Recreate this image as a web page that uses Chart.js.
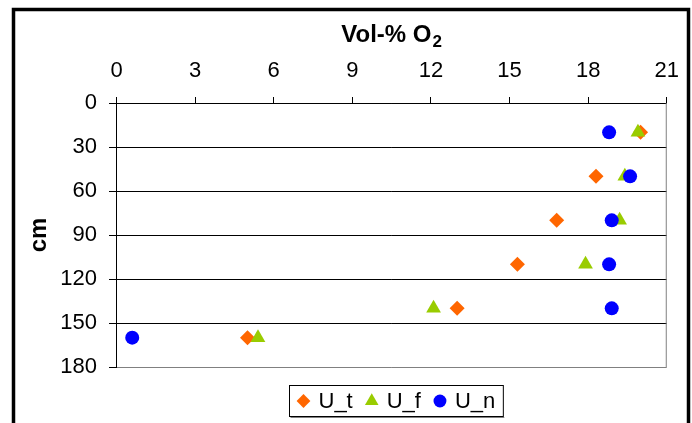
<!DOCTYPE html>
<html>
<head>
<meta charset="utf-8">
<script src="https://cdn.jsdelivr.net/npm/chart.js"></script>
<style>
html, body { margin: 0; padding: 0; background: #fff; }
#wrap { width: 692px; height: 423px; position: relative; }
</style>
</head>
<body>
<div id="wrap"><canvas id="myChart"></canvas></div>
<script>
// depth (cm) and O2 readings (Vol-%)
const depths = [20, 50, 80, 110, 140, 160];
const uT = [20.0, 18.3, 16.8, 15.3, 13.0, 5.0];
const uF = [19.9, 19.4, 19.2, 17.9, 12.1, 5.4];
const uN = [18.8, 19.6, 18.9, 18.8, 18.9, 0.6];
const seriesNames = ['U_t', 'U_f', 'U_n'];
const xTicks = [0, 3, 6, 9, 12, 15, 18, 21];
const yTicks = [0, 30, 60, 90, 120, 150, 180];
const xTitle = ['Vol-% O', '2'];   // main text + subscript

const FONT = '"Liberation Sans", Arial, sans-serif';

const toPoints = vals => vals.map((v, i) => ({ x: v, y: depths[i] }));

// frame, plot edge, x title with subscript and boxed legend
const framePlugin = {
    id: 'frame',
    beforeDraw(chart) {
        const ctx = chart.ctx;
        ctx.save();
        ctx.fillStyle = '#fff';
        ctx.fillRect(0, 0, chart.width, chart.height);
        ctx.restore();
    },
    afterDraw(chart) {
        const { ctx, chartArea } = chart;
        ctx.save();
        ctx.strokeStyle = '#808080';
        ctx.lineWidth = 1;
        ctx.beginPath();
        ctx.moveTo(chartArea.right - 0.5, chartArea.top);
        ctx.lineTo(chartArea.right - 0.5, chartArea.bottom);
        ctx.stroke();

        ctx.strokeStyle = '#000';
        ctx.lineWidth = 3.5;
        ctx.strokeRect(13.5, 9.5, 675, 440);

        // title Vol-% O2
        ctx.fillStyle = '#000';
        ctx.textAlign = 'left';
        ctx.textBaseline = 'alphabetic';
        ctx.font = 'bold 24px ' + FONT;
        const w1 = ctx.measureText(xTitle[0]).width;
        ctx.font = 'bold 17px ' + FONT;
        const w2 = ctx.measureText(xTitle[1]).width;
        const tx = (chartArea.left + chartArea.right) / 2 - (w1 + w2 + 1) / 2;
        ctx.font = 'bold 24px ' + FONT;
        ctx.fillText(xTitle[0], tx, 42);
        ctx.font = 'bold 17px ' + FONT;
        ctx.fillText(xTitle[1], tx + w1 + 1, 47);

        // legend
        ctx.font = '22px ' + FONT;
        const boxLeft = 289.5, boxTop = 385.5, boxH = 31;
        const cy = boxTop + boxH / 2;
        let x = boxLeft + 14;
        const items = [];
        chart.data.datasets.forEach((ds, i) => {
            const tw = ctx.measureText(ds.label).width;
            items.push({ ds, mx: x, tx: x + 15 });
            x = x + 15 + tw + (i < chart.data.datasets.length - 1 ? 19 : 8);
        });
        ctx.fillStyle = '#fff';
        ctx.fillRect(boxLeft, boxTop, x - boxLeft, boxH);
        ctx.strokeStyle = '#000';
        ctx.lineWidth = 1;
        ctx.strokeRect(boxLeft, boxTop, x - boxLeft, boxH);
        ctx.strokeStyle = '#808080';
        ctx.beginPath();
        ctx.moveTo(boxLeft + 1, boxTop + boxH + 1);
        ctx.lineTo(x + 1, boxTop + boxH + 1);
        ctx.stroke();
        items.forEach(it => {
            ctx.fillStyle = it.ds.backgroundColor;
            Chart.helpers.drawPoint(ctx, {
                pointStyle: it.ds.pointStyle,
                radius: it.ds.pointRadius * 0.92,
                rotation: 0,
                borderWidth: 0
            }, it.mx, cy);
            ctx.fillStyle = '#000';
            ctx.textBaseline = 'middle';
            ctx.textAlign = 'left';
            ctx.fillText(it.ds.label, it.tx, cy + 1);
        });
        ctx.restore();
    }
};

const ctx = document.getElementById('myChart').getContext('2d');

new Chart(ctx, {
    type: 'scatter',
    data: {
        datasets: [{
            label: seriesNames[0],
            data: toPoints(uT),
            backgroundColor: '#FF6600',
            pointStyle: 'rectRot',
            pointRadius: 7.5,
            pointBorderWidth: 0,
            order: 3
        }, {
            label: seriesNames[1],
            data: toPoints(uF),
            backgroundColor: '#99CC00',
            pointStyle: 'triangle',
            pointRadius: 8.5,
            pointBorderWidth: 0,
            order: 2
        }, {
            label: seriesNames[2],
            data: toPoints(uN),
            backgroundColor: '#0000FF',
            pointStyle: 'circle',
            pointRadius: 7,
            pointBorderWidth: 0,
            order: 1
        }]
    },
    options: {
        responsive: true,
        maintainAspectRatio: false,
        animation: false,
        layout: { padding: { top: 0, left: 0, right: 25, bottom: 56 } },
        plugins: {
            legend: { display: false },
            tooltip: { enabled: false }
        },
        scales: {
            x: {
                position: 'top',
                min: 0,
                max: 21,
                afterBuildTicks: s => { s.ticks = xTicks.map(v => ({ value: v })); },
                afterFit: s => { s.height = 103; },
                grid: { drawOnChartArea: false, drawTicks: true, tickLength: 6, color: '#000' },
                border: { color: '#000', width: 1 },
                ticks: { color: '#000', padding: 13, maxRotation: 0, font: { family: FONT, size: 22 } },
                title: { display: false }
            },
            y: {
                reverse: true,
                min: 0,
                max: 180,
                afterBuildTicks: s => { s.ticks = yTicks.map(v => ({ value: v })); },
                afterFit: s => { s.width = 116.5; },
                grid: {
                    color: c => (c.tick && c.tick.value === 180) ? '#808080' : '#000',
                    tickColor: '#000',
                    tickLength: 7.5
                },
                border: { color: '#000', width: 1 },
                ticks: { color: '#000', padding: 12, font: { family: FONT, size: 22 } },
                title: {
                    display: true,
                    text: 'cm',
                    color: '#000',
                    padding: { top: 25, bottom: 0 },
                    font: { family: FONT, size: 24, weight: 'bold' }
                }
            }
        }
    },
    plugins: [framePlugin]
});
</script>
</body>
</html>
